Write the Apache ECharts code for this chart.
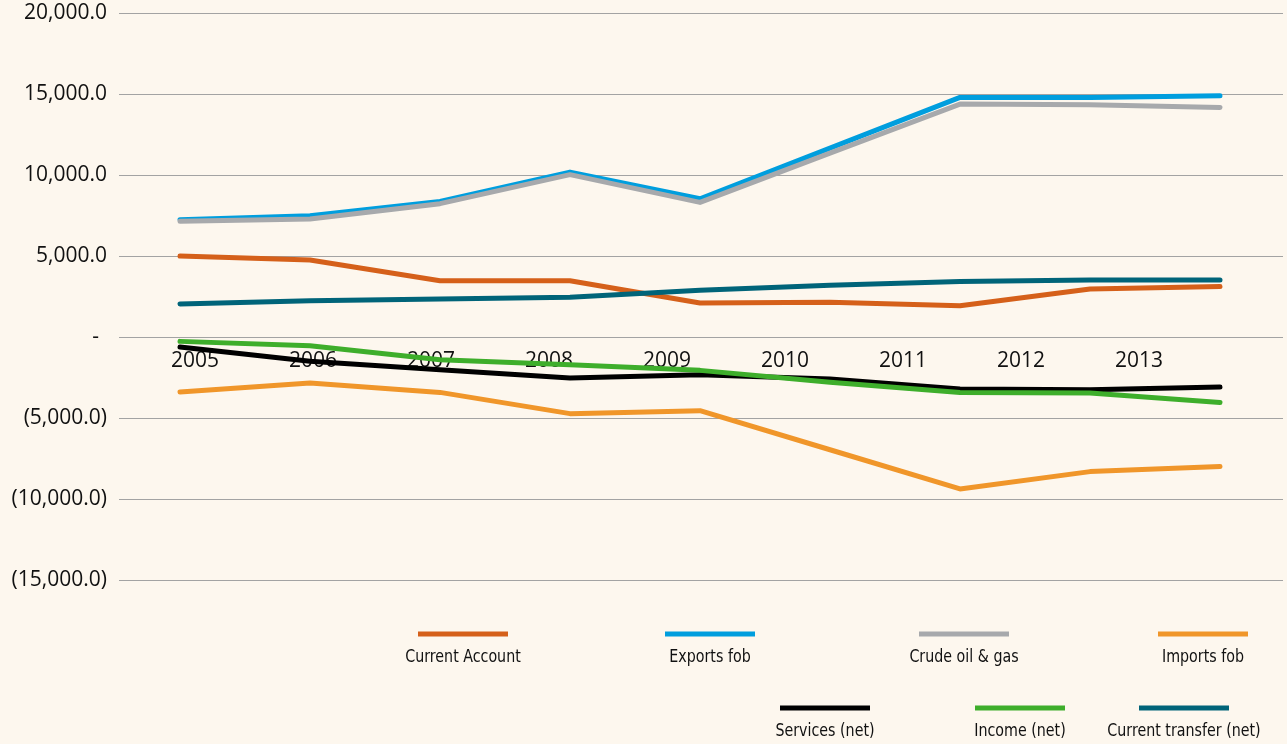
<!DOCTYPE html>
<html>
<head>
<meta charset="utf-8">
<script src="https://cdn.jsdelivr.net/npm/echarts@6/dist/echarts.min.js"></script>
<style>
  html, body { margin: 0; padding: 0; background: #fdf7ee; }
  #chart { width: 1287px; height: 744px; }
</style>
</head>
<body>
<div id="chart"></div>
<script>
// data
const years = ['2005', '2006', '2007', '2008', '2009', '2010', '2011', '2012', '2013'];

const currentAccount  = [5000, 4750, 3475, 3475, 2100, 2140, 1930, 2960, 3120];
const exportsFob      = [7240, 7480, 8370, 10180, 8530, 11660, 14790, 14790, 14890];
const crudeOilGas     = [7140, 7280, 8230, 10020, 8310, 11350, 14380, 14340, 14170];
const importsFob      = [-3400, -2840, -3420, -4730, -4550, -6960, -9380, -8310, -7990];
const servicesNet     = [-620, -1500, -2020, -2530, -2330, -2590, -3210, -3250, -3090];
const incomeNet       = [-270, -540, -1410, -1710, -2060, -2800, -3420, -3460, -4040];
const currentTransfer = [2040, 2240, 2350, 2450, 2880, 3200, 3430, 3520, 3520];

const seriesNames = ['Current Account', 'Exports fob', 'Crude oil & gas', 'Imports fob',
                     'Services (net)', 'Income (net)', 'Current transfer (net)'];
const seriesData = [currentAccount, exportsFob, crudeOilGas, importsFob,
                    servicesNet, incomeNet, currentTransfer];
const seriesColors = ['#d5601a', '#009ede', '#a7a9ac', '#f0962a', '#000000', '#3eae2b', '#006479'];

const yMin = -15000, yMax = 20000, yStep = 5000;

// legend layout (line left x, line y) -- text goes centred under the line
const legendPos = [
    [418, 634], [665, 634], [919, 634], [1158, 634],
    [780, 708], [975, 708], [1139, 708]
];

const chart = echarts.init(document.getElementById('chart'));

function fmtY(v) {
    if (v === 0) return '{z|-}';
    const s = Math.abs(v).toLocaleString('en-US', { minimumFractionDigits: 1, maximumFractionDigits: 1 });
    return v < 0 ? '(' + s + ')' : s;
}

const font = "'Open Sans', sans-serif";
const narrow = "'Liberation Sans Narrow', 'DejaVu Sans Condensed', sans-serif";

const graphics = [];
legendPos.forEach((p, i) => {
    graphics.push({
        type: 'rect', left: p[0], top: p[1] - 2.5,
        shape: { width: 90, height: 5 },
        style: { fill: seriesColors[i] }
    });
    // condensed look: squeeze the text horizontally around its centre
    graphics.push({
        type: 'text', x: p[0] + 45, y: p[1] + 23,
        scaleX: 0.88,
        style: {
            text: seriesNames[i], fill: '#111', font: '18px ' + narrow,
            textAlign: 'center', textVerticalAlign: 'middle'
        }
    });
});

const option = {
    backgroundColor: '#fdf7ee',
    animation: false,
    grid: [
        { left: 119, right: 4, top: 13, height: 567 },   // frame with gridlines
        { left: 180, right: 67, top: 13, height: 567 },  // data
        { left: 136, right: 89, top: 13, height: 324 }   // year labels on zero line
    ],
    xAxis: [
        { gridIndex: 0, type: 'category', data: years, show: false },
        { gridIndex: 1, type: 'category', data: years, boundaryGap: false, show: false },
        {
            gridIndex: 2, type: 'category', data: years, boundaryGap: true,
            axisLine: { show: false }, axisTick: { show: false },
            axisLabel: { color: '#111', fontSize: 21, fontFamily: font, margin: 14 }
        }
    ],
    yAxis: [
        {
            gridIndex: 0, type: 'value', min: yMin, max: yMax, interval: yStep,
            axisLine: { show: false }, axisTick: { show: false },
            splitLine: { lineStyle: { color: '#a3a3a3', width: 1 } },
            axisLabel: {
                color: '#111', fontSize: 21, fontFamily: font, margin: 12,
                formatter: fmtY,
                rich: { z: { fontSize: 21, fontFamily: font, color: '#111', padding: [0, 8, 0, 0] } }
            }
        },
        { gridIndex: 1, type: 'value', min: yMin, max: yMax, show: false },
        { gridIndex: 2, type: 'value', min: 0, max: 1, show: false }
    ],
    series: seriesNames.map((name, i) => ({
        name: name,
        type: 'line',
        xAxisIndex: 1,
        yAxisIndex: 1,
        data: seriesData[i],
        showSymbol: false,
        symbol: 'none',
        lineStyle: { color: seriesColors[i], width: 5, cap: 'round', join: 'round' },
        itemStyle: { color: seriesColors[i] }
    })),
    graphic: graphics
};

chart.setOption(option);
</script>
</body>
</html>
